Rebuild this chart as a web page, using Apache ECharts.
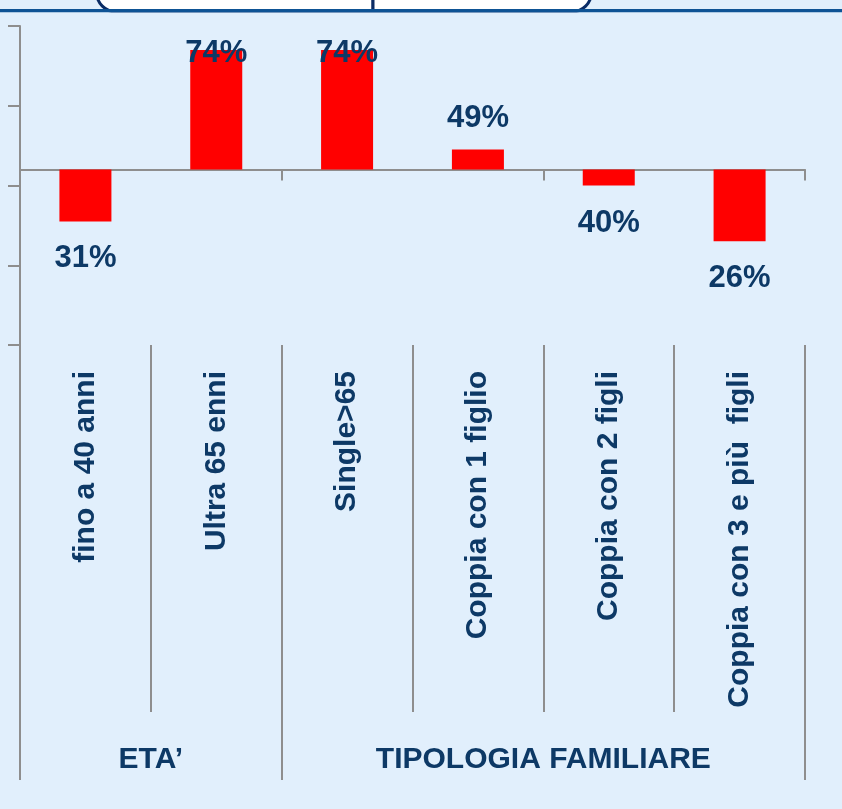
<!DOCTYPE html>
<html>
<head>
<meta charset="utf-8">
<script src="https://cdn.jsdelivr.net/npm/echarts@6/dist/echarts.min.js"></script>
<style>
  html, body { margin: 0; padding: 0; background: #E1EFFC; }
  #chart { width: 842px; height: 809px; }
</style>
</head>
<body>
<div id="chart"></div>
<script>
// categorie e valori (%)
const categories = ['fino a 40 anni', 'Ultra 65 enni', 'Single>65', 'Coppia con 1 figlio', 'Coppia con 2 figli', 'Coppia con 3 e più  figli']
const values = [31, 74, 74, 49, 40, 26]
// media di riferimento: le barre partono da qui
const baseline = 44
// gruppi sotto le categorie
const groupNames = ['ETA\u2019', 'TIPOLOGIA FAMILIARE']
const groupSpans = [2, 4]
// scala asse verticale
const yMin = 0
const yMax = 80
const yStep = 20

const font = '"Liberation Sans Narrow", "Arial Narrow", "Liberation Sans", Arial, sans-serif'
const navy = '#0D3966'
const grey = '#8E8E8E'

// etichette del terzo asse (al centro di ogni gruppo, cadono sui confini delle categorie)
const groupLabels = new Array(categories.length + 1).fill('')
const groupBounds = [0]
let pos = 0
groupSpans.forEach((span, i) => {
  groupLabels[pos + span / 2] = groupNames[i]
  pos += span
  groupBounds.push(pos)
})

const chart = echarts.init(document.getElementById('chart'))

const option = {
  backgroundColor: '#E1EFFC',
  animation: false,
  grid: { left: 20, right: 37, top: 26, bottom: 464, containLabel: false },
  xAxis: [
    {
      // linea della media, con le tacche corte
      type: 'category',
      data: categories,
      position: 'bottom',
      axisLine: { onZero: true, onZeroAxisIndex: 1, lineStyle: { color: grey, width: 2 } },
      axisTick: { show: true, length: 11, lineStyle: { color: grey, width: 2 } },
      axisLabel: { show: false }
    },
    {
      type: 'category',
      data: categories,
      position: 'bottom',
      axisLine: { show: false, onZero: false },
      axisTick: { show: true, length: 367, lineStyle: { color: grey, width: 2 } },
      axisLabel: {
        show: true,
        interval: 0,
        rotate: 90,
        margin: 26,
        color: navy,
        fontFamily: font,
        fontWeight: 'bold',
        fontSize: 30
      }
    },
    {
      type: 'category',
      data: groupLabels,
      boundaryGap: false,
      position: 'bottom',
      axisLine: { show: false, onZero: false },
      axisTick: {
        show: true,
        length: 435,
        interval: (index) => groupBounds.includes(index),
        lineStyle: { color: grey, width: 2 }
      },
      axisLabel: {
        show: true,
        interval: 0,
        margin: 400,
        color: navy,
        fontFamily: font,
        fontWeight: 'bold',
        fontSize: 30
      }
    }
  ],
  yAxis: [
    {
      type: 'value',
      min: yMin,
      max: yMax,
      interval: yStep,
      position: 'left',
      axisLine: { show: true, lineStyle: { color: grey, width: 2 } },
      axisTick: { show: true, length: 12, lineStyle: { color: grey, width: 2 } },
      axisLabel: { show: false },
      splitLine: { show: false }
    },
    {
      type: 'value',
      min: yMin - baseline,
      max: yMax - baseline,
      show: false,
      splitLine: { show: false }
    }
  ],
  series: [
    {
      type: 'bar',
      xAxisIndex: 0,
      yAxisIndex: 1,
      barWidth: 52,
      itemStyle: { color: '#FF0000' },
      label: {
        show: true,
        color: navy,
        fontFamily: font,
        fontWeight: 'bold',
        fontSize: 31,
        formatter: (p) => values[p.dataIndex] + '%'
      },
      data: values.map(v => {
        const d = v - baseline
        let label
        if (d >= 0 && (yMax - v) < 10) {
          // troppo vicino al bordo: l'etichetta resta dentro l'area
          label = { position: 'insideTop', distance: 0, offset: [0, -12] }
        } else if (d >= 0) {
          label = { position: 'top', distance: 16 }
        } else {
          label = { position: 'bottom', distance: 22 }
        }
        return { value: d, label }
      })
    }
  ],
  graphic: [
    { type: 'rect', shape: { x: 96.5, y: -80, width: 276.5, height: 92, r: [0, 0, 0, 20] }, style: { fill: '#FFFFFF', stroke: '#0A2C66', lineWidth: 3 }, z: 10 },
    { type: 'rect', shape: { x: 373, y: -80, width: 218.5, height: 92, r: [0, 0, 20, 0] }, style: { fill: '#FFFFFF', stroke: '#0A2C66', lineWidth: 3 }, z: 10 },
    { type: 'rect', shape: { x: 0, y: 9, width: 842, height: 3.5 }, style: { fill: '#0E5395' }, z: 11 },
    { type: 'rect', shape: { x: 0, y: 12.5, width: 842, height: 3 }, style: { fill: '#E1EFFC' }, z: 11 }
  ]
}

chart.setOption(option)
window.addEventListener('resize', () => chart.resize())
</script>
</body>
</html>
